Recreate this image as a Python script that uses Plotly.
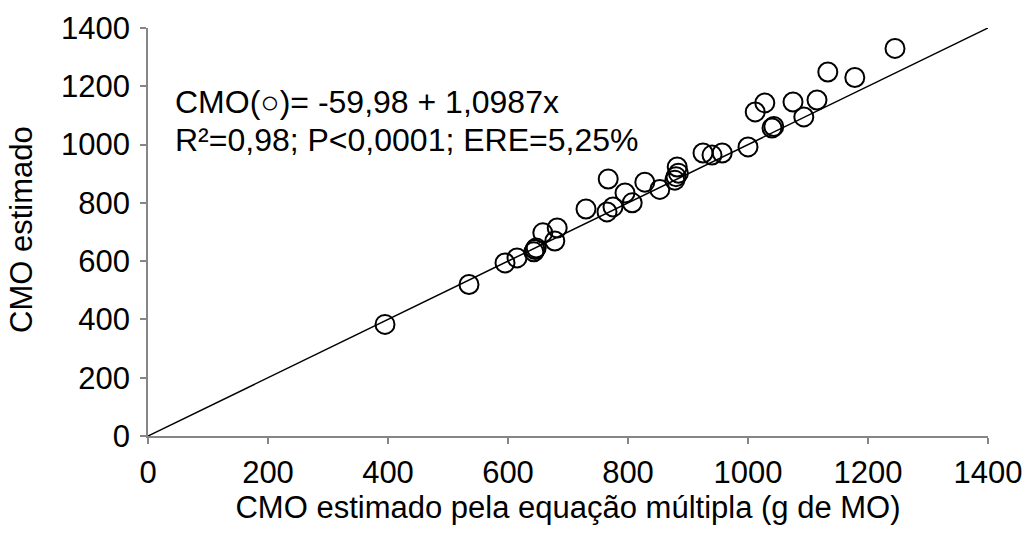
import plotly.graph_objects as go

x_vals = [395, 535, 595, 615, 643, 645, 647, 658, 678, 682, 730, 765, 767, 775, 795, 807,
          828, 853, 878, 880, 882, 884, 925, 940, 957, 1000, 1012, 1028, 1040, 1043, 1075,
          1093, 1115, 1133, 1178, 1245]
y_vals = [383, 520, 594, 611, 632, 640, 645, 697, 669, 714, 779, 769, 882, 786, 834, 800,
          871, 846, 878, 890, 923, 902, 971, 964, 971, 992, 1112, 1143, 1057, 1062, 1146,
          1095, 1153, 1249, 1230, 1330]
line_x = [0, 1400]
line_y = [0, 1400]
tick_vals = [0, 200, 400, 600, 800, 1000, 1200, 1400]

FONT = "Liberation Sans, Arial, sans-serif"
FS = 31

fig = go.Figure()
fig.add_trace(go.Scatter(x=line_x, y=line_y, mode="lines",
                         line=dict(color="black", width=1.5), showlegend=False,
                         hoverinfo="skip"))
fig.add_trace(go.Scatter(x=x_vals, y=y_vals, mode="markers",
                         marker=dict(symbol="circle-open", size=19,
                                     line=dict(color="black", width=2), color="black"),
                         showlegend=False))

axis_common = dict(range=[0, 1400], tickvals=tick_vals, showgrid=False, zeroline=False,
                   showline=True, linecolor="#868686", linewidth=1.5,
                   ticks="outside", ticklen=6, tickcolor="#868686", tickwidth=1.5,
                   automargin=False,
                   tickfont=dict(family=FONT, size=FS, color="black"))

fig.update_layout(
    width=1027, height=536,
    margin=dict(l=148, r=39, t=28, b=100, autoexpand=False),
    paper_bgcolor="white", plot_bgcolor="white",
    xaxis=dict(**axis_common, ticklabelstandoff=2,
               title=dict(text="CMO estimado pela equação múltipla (g de MO)",
                          font=dict(family=FONT, size=FS, color="black"), standoff=1)),
    yaxis=dict(**axis_common, ticklabelstandoff=4),
    annotations=[
        dict(text="CMO estimado", xref="paper", yref="paper", textangle=-90,
             x=(21 - 148) / 840, y=(436 - 230) / 408, xanchor="center", yanchor="middle",
             showarrow=False, font=dict(family=FONT, size=FS, color="black")),
        dict(text="CMO(○)= -59,98 + 1,0987x", xref="paper", yref="paper",
             x=(173 - 148) / 840, y=(436 - 102) / 408, xanchor="left", yanchor="middle",
             showarrow=False, font=dict(family=FONT, size=32, color="black")),
        dict(text="R²=0,98; P<0,0001; ERE=5,25%", xref="paper", yref="paper",
             x=(173 - 148) / 840, y=(436 - 140) / 408, xanchor="left", yanchor="middle",
             showarrow=False, font=dict(family=FONT, size=32, color="black")),
    ],
)

fig.write_html("out.html")
